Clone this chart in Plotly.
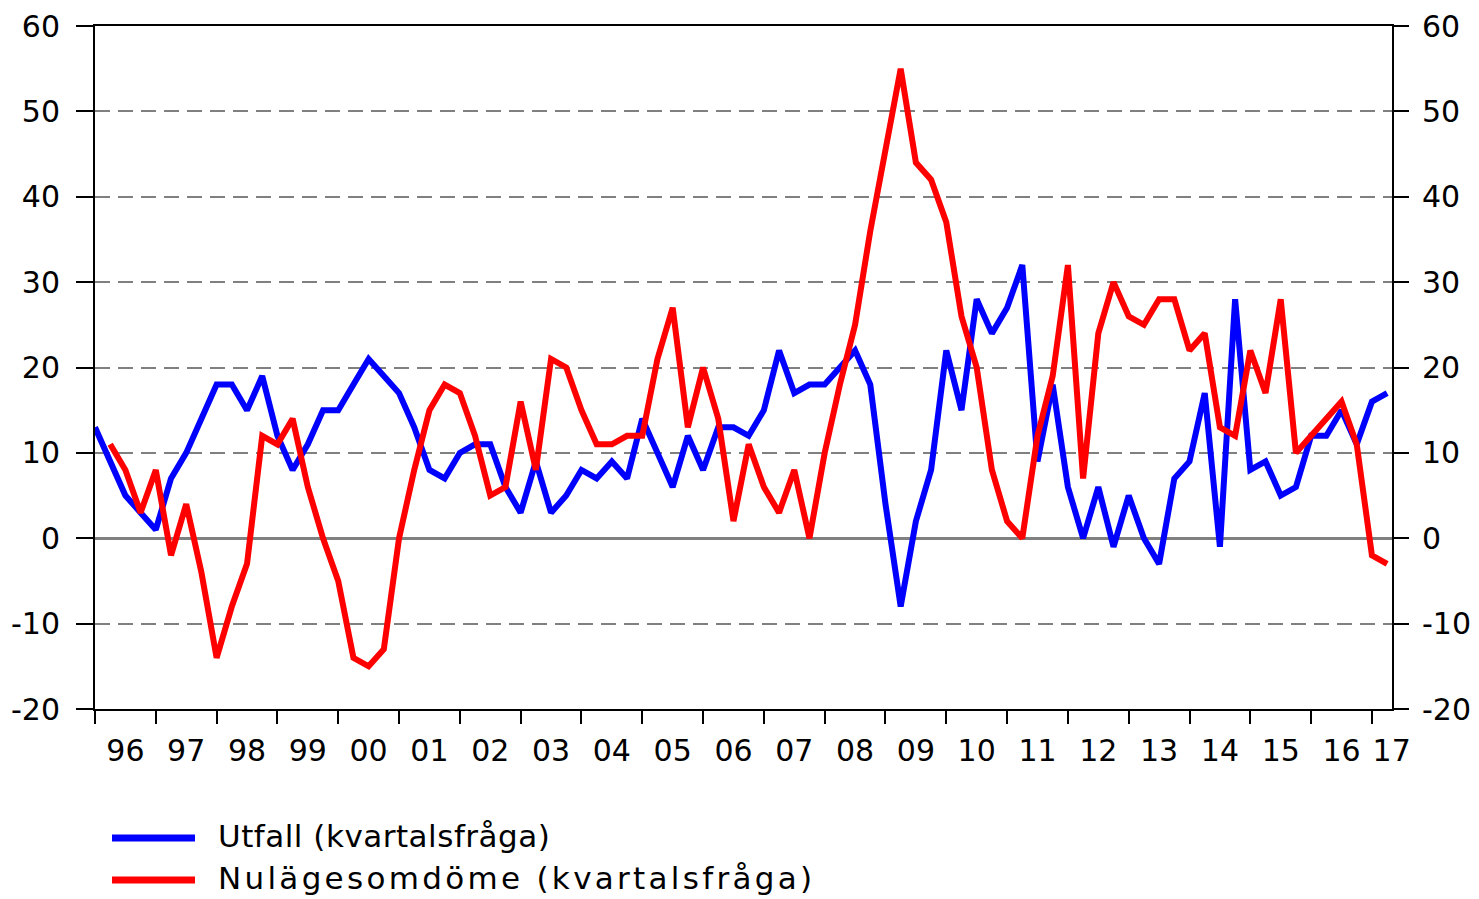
import plotly.graph_objects as go

# Quarterly data 1996Q1 .. 2017Q2
start_year = 1996
utfall = [13, 9, 5, 3, 1, 7, 10, 14, 18, 18,
          15, 19, 12, 8, 11, 15, 15, 18, 21, 19,
          17, 13, 8, 7, 10, 11, 11, 6, 3, 9,
          3, 5, 8, 7, 9, 7, 14, 10, 6, 12,
          8, 13, 13, 12, 15, 22, 17, 18, 18, 20,
          22, 18, 4, -8, 2, 8, 22, 15, 28, 24,
          27, 32, 9, 18, 6, 0, 6, -1, 5, 0,
          -3, 7, 9, 17, -1, 28, 8, 9, 5, 6,
          12, 12, 15, 11, 16, 17]
nulage = [None, 11, 8, 3, 8, -2, 4, -4, -14, -8,
          -3, 12, 11, 14, 6, 0, -5, -14, -15, -13,
          0, 8, 15, 18, 17, 12, 5, 6, 16, 8,
          21, 20, 15, 11, 11, 12, 12, 21, 27, 13,
          20, 14, 2, 11, 6, 3, 8, 0, 10, 18,
          25, 36, 46, 55, 44, 42, 37, 26, 20, 8,
          2, 0, 12, 19, 32, 7, 24, 30, 26, 25,
          28, 28, 22, 24, 13, 12, 22, 17, 28, 10,
          12, 14, 16, 11, -2, -3]
year_labels = ["96", "97", "98", "99", "00", "01", "02", "03", "04", "05", "06",
               "07", "08", "09", "10", "11", "12", "13", "14", "15", "16", "17"]
y_ticks = [-20, -10, 0, 10, 20, 30, 40, 50, 60]
names = ["Utfall (kvartalsfråga)", "Nulägesomdöme (kvartalsfråga)"]
colors = ["#0000FF", "#FF0000"]

x = [start_year + i / 4 for i in range(len(utfall))]
x_end = 2017.33

font = dict(family="DejaVu Sans", size=30, color="#000000")

fig = go.Figure()
fig.add_trace(go.Scatter(x=x, y=utfall, mode="lines", name=names[0],
                         line=dict(color=colors[0], width=6), yaxis="y"))
fig.add_trace(go.Scatter(x=x, y=nulage, mode="lines", name=names[1],
                         line=dict(color=colors[1], width=6), yaxis="y2"))

label_vals = [start_year + k + 0.5 for k in range(len(year_labels) - 1)] + [x_end - 0.005]
boundary_vals = [start_year + k for k in range(len(year_labels))]

yt_text = [str(v) for v in y_ticks]
fig.update_layout(
    width=1479, height=899,
    paper_bgcolor="white", plot_bgcolor="white",
    margin=dict(l=95, r=87, t=26, b=190),
    showlegend=False,
    font=font,
    xaxis=dict(range=[start_year, x_end], showgrid=False, zeroline=False, automargin=False,
               showline=True, linecolor="black", linewidth=2, mirror=True,
               tickmode="array", tickvals=label_vals, ticktext=year_labels,
               ticks="outside", ticklen=14, tickcolor="rgba(0,0,0,0)",
               tickfont=font,
               minor=dict(tickmode="array", tickvals=boundary_vals, ticks="outside",
                          ticklen=13, tickwidth=2, tickcolor="black", showgrid=False)),
    yaxis=dict(range=[-20, 60], tickmode="array", tickvals=y_ticks, ticktext=yt_text,
               automargin=False,
               showgrid=True, gridcolor="#808080", gridwidth=1.5, griddash="15px,8px",
               zeroline=True, zerolinecolor="#808080", zerolinewidth=3,
               showline=True, linecolor="black", linewidth=2, mirror=True,
               ticks="outside", ticklen=17, tickwidth=2, tickcolor="black",
               ticklabelstandoff=10, tickfont=font),
    yaxis2=dict(range=[-20, 60], overlaying="y", side="right", automargin=False,
                tickmode="array", tickvals=y_ticks, ticktext=yt_text,
                showgrid=False, zeroline=False, showline=False,
                ticks="outside", ticklen=16, tickwidth=2, tickcolor="black",
                ticklabelstandoff=7, tickfont=font),
)

# Legend drawn manually (long key lines)
px_w, px_h = 1297, 683
def px2paper(px, py):
    return (px - 95) / px_w, (709 - py) / px_h

spacings = [0.5, 3.3]
for name, col, py, sp in zip(names, colors, [838, 880], spacings):
    x0, y0 = px2paper(112, py)
    x1, _ = px2paper(195, py)
    fig.add_shape(type="line", xref="paper", yref="paper", x0=x0, x1=x1, y0=y0, y1=y0,
                  line=dict(color=col, width=7))
    tx, ty = px2paper(216, py - 2)
    fig.add_annotation(xref="paper", yref="paper", x=tx, y=ty,
                       text=f'<span style="letter-spacing:{sp}px">{name}</span>',
                       showarrow=False, xanchor="left", yanchor="middle",
                       font=dict(family="DejaVu Sans", size=31, color="black"))

fig.write_html("out.html", config={"displayModeBar": False},
               post_script="document.body.style.margin='0';document.body.style.padding='0';")
